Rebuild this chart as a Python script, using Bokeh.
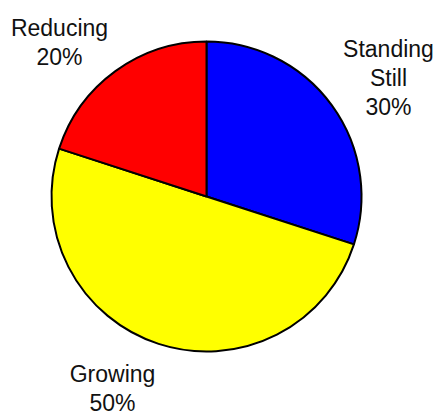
import math
from bokeh.plotting import figure
from bokeh.models import Range1d, ColumnDataSource
from bokeh.embed import file_html
from bokeh.resources import INLINE
from bokeh.core.properties import value

# Share of companies by trend
categories = ["Standing Still", "Growing", "Reducing"]
percent = [30, 50, 20]
colors = ["#0000ff", "#ffff00", "#ff0000"]
label_lines = [["Standing", "Still"], ["Growing"], ["Reducing"]]

W, H = 439, 414
p = figure(width=W, height=H, output_backend="svg", toolbar_location=None,
           x_range=Range1d(0, W), y_range=Range1d(0, H), min_border=0)
p.axis.visible = False
p.grid.visible = False
p.outline_line_color = None
p.background_fill_color = "white"
p.border_fill_color = "white"

cx, cy, r = 206, H - 196, 155

# Slices run clockwise from 12 o'clock
total = sum(percent)
starts, ends = [], []
cum = 0.0
for v in percent:
    a0 = math.pi / 2 - 2 * math.pi * cum / total
    cum += v
    a1 = math.pi / 2 - 2 * math.pi * cum / total
    starts.append(a1)
    ends.append(a0)

src = ColumnDataSource(dict(cat=categories, start=starts, end=ends, color=colors))
p.wedge(x=cx, y=cy, radius=r, radius_units="screen", start_angle="start", end_angle="end",
        fill_color="color", line_color="black", line_width=2, source=src)

# Label anchors (centre x, first baseline y in screen px)
anchors = [(388, 48), (112, 373), (59, 27)]
line_h = 29
xs, ys, texts = [], [], []
for (ax, ay), lines, v in zip(anchors, label_lines, percent):
    for i, t in enumerate(lines + [f"{v}%"]):
        xs.append(ax)
        ys.append(H - (ay + i * line_h))
        texts.append(t)

p.text(x=xs, y=ys, text=texts, text_align="center", text_baseline="alphabetic",
       text_font=value("Liberation Sans"), text_font_size="23px", text_color="#111111")

open("out.html", "w").write(file_html(p, INLINE))
